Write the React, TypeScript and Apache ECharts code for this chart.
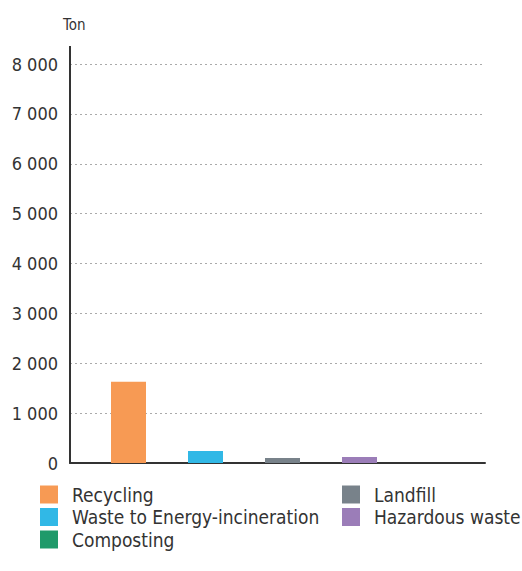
import React, { useEffect, useRef } from "react";
import * as echarts from "echarts";

const seriesNames = ["Recycling", "Waste to Energy-incineration", "Landfill", "Hazardous waste", "Composting"];
const seriesValues = [1630, 240, 100, 120, 0];
const seriesColors = ["#f79a54", "#31b8e6", "#78828a", "#9b7db8", "#1f9a6a"];
const legendLeft = ["Recycling", "Waste to Energy-incineration", "Composting"];
const legendRight = ["Landfill", "Hazardous waste"];
const unit = "Ton";

const FONT = "'DejaVu Sans Condensed', 'Liberation Sans Narrow', sans-serif";

export default function App() {
  const ref = useRef<HTMLDivElement>(null);
  useEffect(() => {
    if (!ref.current) return;
    const chart = echarts.init(ref.current, null, { renderer: "svg" });
    const legendBase = {
      orient: "vertical" as const,
      icon: "rect",
      itemWidth: 18,
      itemHeight: 18,
      itemGap: 3.5,
      textStyle: { fontFamily: FONT, fontSize: 19, color: "#333", padding: [0, 0, 0, 9] },
      selectedMode: false,
    };
    chart.setOption({
      animation: false,
      grid: { left: 70, top: 64, width: 415, height: 399, containLabel: false },
      title: {
        text: unit,
        left: 58,
        top: 12,
        textStyle: { fontFamily: FONT, fontSize: 15, fontWeight: "normal", color: "#333" },
      },
      legend: [
        { ...legendBase, left: 35, top: 480, data: legendLeft },
        { ...legendBase, left: 337, top: 480, data: legendRight },
      ],
      xAxis: {
        type: "category",
        data: [""],
        axisLine: { lineStyle: { color: "#333", width: 2 } },
        axisTick: { show: false },
        axisLabel: { show: false },
      },
      yAxis: {
        type: "value",
        min: 0,
        max: 8000,
        interval: 1000,
        axisLine: { show: true, lineStyle: { color: "#333", width: 2 } },
        axisTick: { show: false },
        axisLabel: {
          fontFamily: FONT,
          fontSize: 18,
          color: "#333",
          margin: 12,
          formatter: (v: number) => String(v).replace(/\B(?=(\d{3})+(?!\d))/g, " "),
        },
        splitLine: { lineStyle: { color: "#aaa", type: [2, 3], width: 1 } },
      },
      graphic: [
        {
          type: "line",
          shape: { x1: 70, y1: 46, x2: 70, y2: 65 },
          style: { stroke: "#333", lineWidth: 2 },
        },
      ],
      series: seriesNames.map((name, i) => ({
        name,
        type: "bar",
        data: [seriesValues[i]],
        barWidth: i === seriesNames.length - 1 ? 25 : 35,
        barGap: "120%",
        itemStyle: { color: seriesColors[i] },
      })),
    });
    return () => chart.dispose();
  }, []);
  return <div ref={ref} style={{ width: 522, height: 571, position: "absolute", left: 0, top: 0 }} />;
}
